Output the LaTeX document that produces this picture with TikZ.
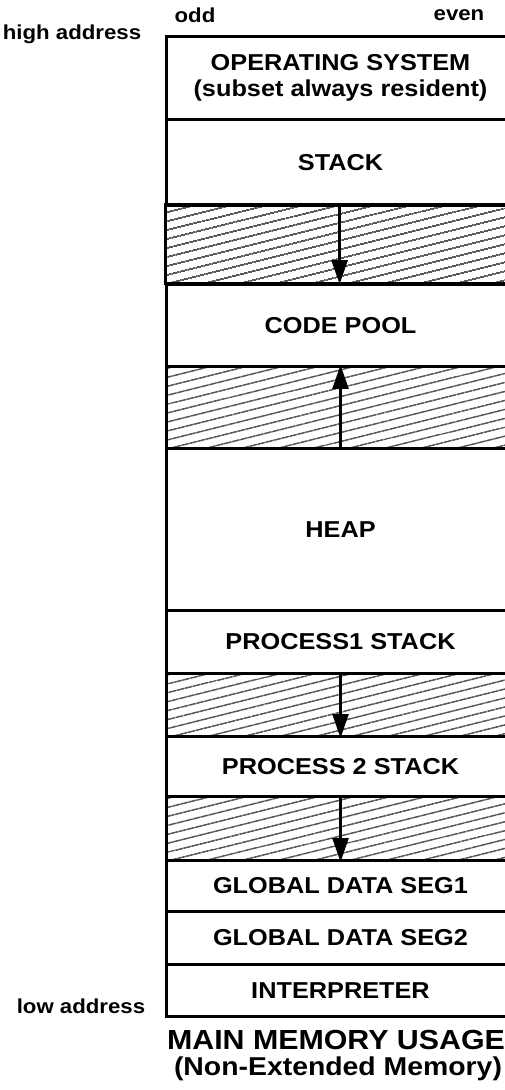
\documentclass[tikz,border=0pt]{standalone}
\usepackage{fontspec}
\setmainfont[FakeStretch=1.1]{Liberation Sans}
\usetikzlibrary{arrows.meta,patterns.meta}

\tikzset{
  memrow/.style={draw, line width=1.5pt, anchor=north west, inner sep=0pt,
    minimum width=174pt, align=center,
    font=\fontsize{11.5}{13}\selectfont\bfseries},
  freegap/.style={memrow,
    pattern={Lines[angle=14, distance=4pt, line width=0.6pt]}},
  growarrow/.style={line width=1.3pt, -{Triangle[length=12pt, width=8pt]}},
  sidelabel/.style={font=\fontsize{10.1}{12}\selectfont\bfseries},
  caption/.style={font=\fontsize{13.8}{15}\selectfont\bfseries},
}

\begin{document}
\begin{tikzpicture}[x=0.5pt, y=-0.5pt]
  \useasboundingbox (0,0) rectangle (504,1090);

  % Memory rows (px from top, left edge 165, right edge just off the page)
  %  os     :  35 - 118
  %  stack  : 118 - 204
  %  free1  : 204 - 283
  %  code   : 283 - 365
  %  free2  : 365 - 447
  %  heap   : 447 - 609
  %  pstack1: 609 - 672
  %  free3  : 672 - 735
  %  pstack2: 735 - 795
  %  free4  : 795 - 859
  %  gseg1  : 859 - 910
  %  gseg2  : 910 - 963
  %  interp : 963 - 1015
  \node[memrow,  minimum height=41.5pt] (os)      at (165,  35) {OPERATING SYSTEM\\(subset always resident)};
  \node[memrow,  minimum height=43pt]   (stack)   at (165, 118) {STACK};
  \node[freegap, minimum height=39.5pt] (free1)   at (165, 204) {};
  \node[memrow,  minimum height=41pt]   (code)    at (165, 283) {CODE POOL};
  \node[freegap, minimum height=41pt]   (free2)   at (165, 365) {};
  \node[memrow,  minimum height=81pt]   (heap)    at (165, 447) {HEAP};
  \node[memrow,  minimum height=31.5pt] (pstack1) at (165, 609) {PROCESS1 STACK};
  \node[freegap, minimum height=31.5pt] (free3)   at (165, 672) {};
  \node[memrow,  minimum height=30pt]   (pstack2) at (165, 735) {PROCESS 2 STACK};
  \node[freegap, minimum height=32pt]   (free4)   at (165, 795) {};
  \node[memrow,  minimum height=25.5pt] (gseg1)   at (165, 859) {GLOBAL DATA SEG1};
  \node[memrow,  minimum height=26.5pt] (gseg2)   at (165, 910) {GLOBAL DATA SEG2};
  \node[memrow,  minimum height=26pt]   (interp)  at (165, 963) {INTERPRETER};

  % Growth arrows
  \draw[growarrow] (free1.north) -- (free1.south);
  \draw[growarrow] (free2.south) -- (free2.north);
  \draw[growarrow] (free3.north) -- (free3.south);
  \draw[growarrow] (free4.north) -- (free4.south);

  % Labels round the box
  \node[sidelabel] (odd)  at (195, 15) {odd};
  \node[sidelabel] (even) at (459, 15) {even};
  \node[sidelabel] (high) at (72, 34) {high address};
  \node[sidelabel] (low)  at (81, 1006) {low address};

  % Caption
  \node[caption] (title) at (336, 1040) {MAIN MEMORY USAGE};
  \node[caption, font=\fontsize{12.9}{15}\selectfont\bfseries] (sub) at (338, 1069) {(Non-Extended Memory)};

\end{tikzpicture}
\end{document}
